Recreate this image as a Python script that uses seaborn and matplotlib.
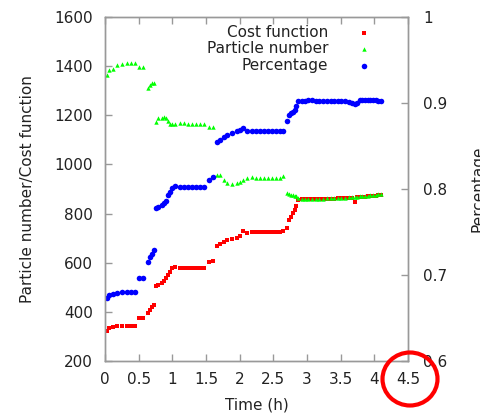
import matplotlib
matplotlib.use("Agg")
import matplotlib.pyplot as plt
from matplotlib.patches import Ellipse
import seaborn as sns

# samples (time in hours)
time_h = [
    0.03, 0.06, 0.12, 0.18, 0.25, 0.33, 0.39, 0.45,
    0.51, 0.57, 0.64, 0.67, 0.70, 0.73,
    0.76, 0.79, 0.84, 0.88, 0.91, 0.93, 0.96, 0.99,
    1.04, 1.11, 1.17, 1.23, 1.29, 1.35, 1.41, 1.47,
    1.54, 1.61,
    1.66, 1.71, 1.76, 1.81, 1.88, 1.96, 2.01, 2.05,
    2.11, 2.18, 2.24, 2.30, 2.36, 2.42, 2.48, 2.54, 2.60,
    2.64, 2.70, 2.73, 2.76, 2.79, 2.82, 2.84, 2.87,
    2.92, 2.97, 3.02, 3.07, 3.13, 3.18, 3.24, 3.29, 3.35, 3.40, 3.46, 3.51, 3.57, 3.62,
    3.67, 3.71, 3.74,
    3.78, 3.82, 3.86, 3.90, 3.94, 3.98, 4.02, 4.06, 4.10,
]
cost = [
    323, 333, 340, 344, 344, 344, 344, 344,
    374, 374, 394, 407, 421, 428,
    505, 509, 516, 527, 536, 550, 563, 577,
    581, 578, 578, 578, 578, 578, 578, 578,
    604, 608,
    668, 676, 685, 692, 696, 702, 709, 729,
    720, 726, 725, 725, 725, 725, 725, 725, 725,
    729, 741, 774, 786, 802, 815, 832, 855,
    858, 859, 859, 859, 860, 860, 860, 861, 861, 861, 862, 862, 863, 864,
    864, 847, 866,
    867, 868, 869, 870, 871, 872, 873, 874, 875,
]
particles = [
    1364, 1384, 1387, 1405, 1409, 1411, 1411, 1411,
    1395, 1395, 1310, 1323, 1330, 1333,
    1174, 1188, 1190, 1194, 1188, 1175, 1164, 1164,
    1164, 1167, 1170, 1164, 1164, 1164, 1164, 1164,
    1151, 1151,
    957, 957, 937, 926, 920, 923, 930, 935,
    943, 948, 943, 943, 943, 943, 943, 943, 943,
    953, 884, 880, 877, 875, 873, 870, 862,
    859, 860, 860, 860, 861, 861, 861, 862, 862, 862, 863, 863, 865, 866,
    866, 866, 868,
    870, 871, 872, 873, 874, 876, 877, 878, 880,
]
percentage = [
    0.673, 0.677, 0.678, 0.679, 0.680, 0.680, 0.680, 0.680,
    0.697, 0.697, 0.715, 0.721, 0.725, 0.729,
    0.778, 0.779, 0.781, 0.784, 0.786, 0.793, 0.797, 0.801,
    0.803, 0.802, 0.802, 0.802, 0.802, 0.802, 0.802, 0.802,
    0.810, 0.814,
    0.855, 0.857, 0.861, 0.863, 0.865, 0.867, 0.869, 0.871,
    0.868, 0.868, 0.867, 0.867, 0.867, 0.867, 0.867, 0.867, 0.867,
    0.867, 0.879, 0.886, 0.888, 0.890, 0.892, 0.896, 0.902,
    0.902, 0.902, 0.903, 0.903, 0.902, 0.902, 0.902, 0.902, 0.902, 0.902, 0.902, 0.902, 0.902, 0.901,
    0.900, 0.899, 0.900,
    0.903, 0.903, 0.903, 0.903, 0.903, 0.903, 0.903, 0.902, 0.902,
]

x_ticks = [0, 0.5, 1, 1.5, 2, 2.5, 3, 3.5, 4, 4.5]
x_tick_labels = ["0", "0.5", "1", "1.5", "2", "2.5", "3", "3.5", "4", "4.5"]
left_ticks = [200, 400, 600, 800, 1000, 1200, 1400, 1600]
right_ticks = [0.6, 0.7, 0.8, 0.9, 1.0]
right_tick_labels = ["0.6", "0.7", "0.8", "0.9", "1"]

sns.set_style("white")
plt.rcParams["font.family"] = ["DejaVu Sans"]
plt.rcParams["font.size"] = 11

grey = "#999999"
ink = "#222222"

fig = plt.figure(figsize=(4.8, 4.15), dpi=100)
ax = fig.add_axes([105 / 480, 1 - 361 / 415, 303 / 480, 344 / 415])
ax2 = ax.twinx()

sns.scatterplot(x=time_h, y=cost, ax=ax, marker="s", color="#ff0000", s=12,
                linewidth=0, label="Cost function", legend=False)
sns.scatterplot(x=time_h, y=particles, ax=ax, marker="^", color="#00ff00", s=10,
                linewidth=0, label="Particle number", legend=False)
sns.scatterplot(x=time_h, y=percentage, ax=ax2, marker="o", color="#0000ff", s=16,
                linewidth=0, label="Percentage", legend=False)

ax.set_xlim(0, 4.5)
ax.set_ylim(200, 1600)
ax2.set_ylim(0.6, 1.0)
ax.set_xticks(x_ticks, x_tick_labels)
ax.set_yticks(left_ticks)
ax2.set_yticks(right_ticks, right_tick_labels)

for a in (ax, ax2):
    for sp in a.spines.values():
        sp.set_color(grey)
        sp.set_linewidth(1)
        sp.set_visible(True)

ax.tick_params(axis="x", direction="in", bottom=True, top=True, length=5, width=1,
               color=grey, pad=8, labelsize=11, labelcolor=ink)
ax.tick_params(axis="y", direction="in", left=True, right=False, length=5, width=1,
               color=grey, pad=8.5, labelsize=11, labelcolor=ink)
ax2.tick_params(axis="y", direction="in", left=False, right=True, length=5, width=1,
                color=grey, pad=11, labelsize=11, labelcolor=ink)

ax.set_xlabel("Time (h)", fontsize=11, color=ink)
ax.set_ylabel("Particle number/Cost function", fontsize=11, color=ink)
ax2.set_ylabel("Percentage", fontsize=11, color=ink)
ax.xaxis.set_label_coords(0.5, -0.105)
ax.yaxis.set_label_coords(-0.232, 0.5)
ax2.yaxis.set_label_coords(1.205, 0.5)

h1, l1 = ax.get_legend_handles_labels()
h2, l2 = ax2.get_legend_handles_labels()
ax2.legend(h1 + h2, l1 + l2, loc="upper right", bbox_to_anchor=(0.904, 0.977),
           frameon=False, markerfirst=False, handlelength=2.0, handletextpad=1.3,
           labelspacing=0.1, borderpad=0, borderaxespad=0, fontsize=11,
           labelcolor=ink)

# red circle highlighting the last x tick label
fig.add_artist(Ellipse((410 / 480, 1 - 379 / 415), 55 / 480, 53 / 415,
                       transform=fig.transFigure, fill=False,
                       edgecolor="red", linewidth=3, clip_on=False))

fig.savefig("out.png", dpi=100)
